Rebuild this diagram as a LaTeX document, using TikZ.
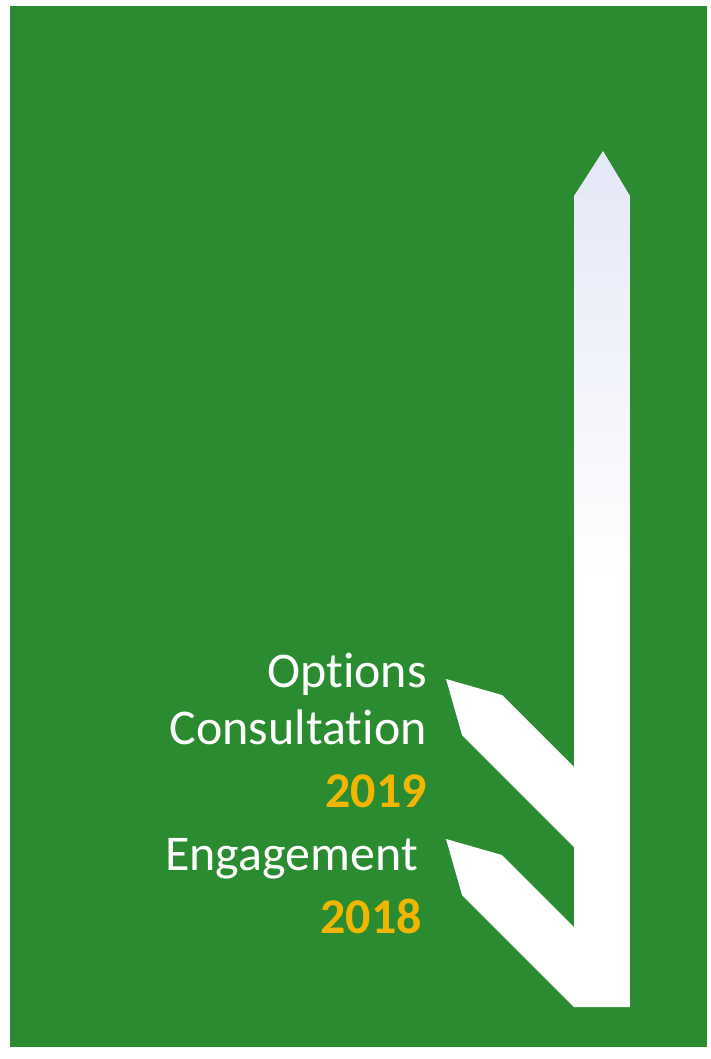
\documentclass[tikz,border=0pt]{standalone}
\usepackage{fontspec}
\setmainfont{Carlito}[Ligatures={NoCommon,NoContextual}]
\usepackage{xcolor,tikz}
\definecolor{signgreen}{RGB}{43,139,48}
\definecolor{signgold}{RGB}{242,182,0}
\definecolor{arrowtop}{RGB}{228,231,246}
\usetikzlibrary{positioning}
\tikzset{>=stealth}
\tikzset{label/.style={anchor=base east,inner sep=0pt,text=white,font=\fontsize{50}{60}\selectfont},
year/.style={label,text=signgold,font=\fontsize{50}{60}\selectfont\bfseries}}

\begin{document}
\begin{tikzpicture}[x=1pt,y=-1pt]
\useasboundingbox (0,0) rectangle (711,1059);
\fill[signgreen] (10,6) rectangle (707,1047);
% arrow with two branches
\shade[top color=arrowtop,bottom color=white,middle color=white] (603,151)--(630,196)--(630,1007)--(574,1007)--(462,895)--(446,839)--(502,855)--(574,927)--(574,847)--(462,735)--(446,679)--(502,695)--(574,767)--(574,196)--cycle;
\node[label] (options) at (427,687) {Options};
\node[label] (consult) at (427,744) {Consultation};
\node[year] (yr2019) at (427,807) {2019};
\node[label] (engage) at (418,870) {Engagement};
\node[year] (yr2018) at (422,933) {2018};
\end{tikzpicture}
\end{document}
